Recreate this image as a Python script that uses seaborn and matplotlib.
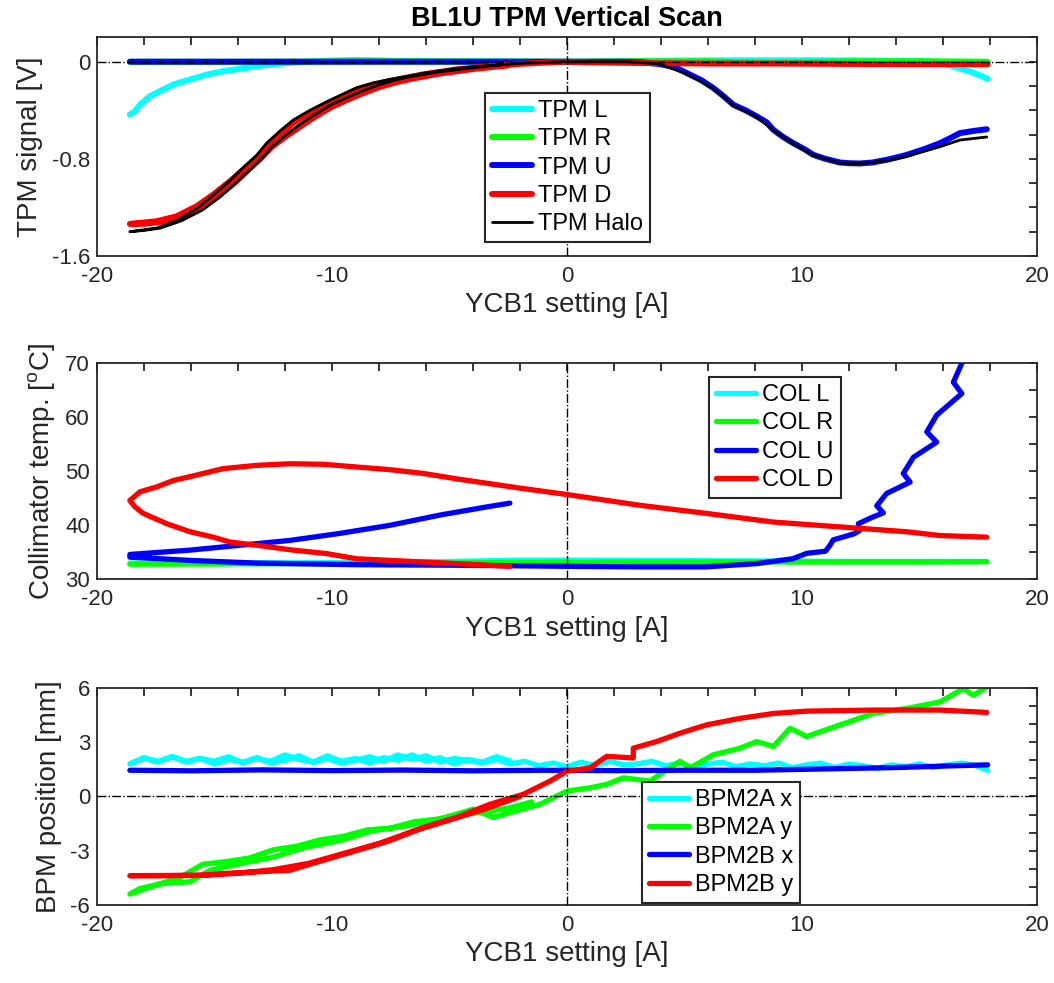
import numpy as np
import pandas as pd
import matplotlib
matplotlib.use("Agg")
import matplotlib.pyplot as plt
from matplotlib.ticker import MultipleLocator, FixedLocator, FuncFormatter
import seaborn as sns

sns.set_style("white")
plt.rcParams['font.family'] = ['Liberation Sans', 'DejaVu Sans']
plt.rcParams['mathtext.fontset'] = 'custom'
plt.rcParams['mathtext.rm'] = 'Liberation Sans'
plt.rcParams['mathtext.it'] = 'Liberation Sans'
plt.rcParams['axes.unicode_minus'] = False

# ---------------- Panel 1: TPM signals ----------------
tpmL_x = [-18.60, -18.38, -18.16, -17.74, -17.31, -16.74, -16.03, -15.31, -14.60, -13.89, -13.18,
          -12.47, -11.75, -11.04, -10.0, -9.0, -8.0, -7.0, -5.0, -3.0, -1.0, 1.0, 3.0, 5.0, 7.0,
          9.0, 11.0, 13.0, 15.0, 15.8, 16.3, 16.8, 17.3, 17.9]
tpmL_y = [-0.434, -0.407, -0.352, -0.283, -0.242, -0.187, -0.146, -0.105, -0.077, -0.058, -0.036,
          -0.022, -0.008, 0.0, 0.01, 0.015, 0.012, 0.005, 0.003, 0.002, 0.0, 0.0, 0.005, 0.01, 0.012,
          0.012, 0.012, 0.01, 0.005, 0.0, -0.03, -0.06, -0.09, -0.14]

tpmR_x = [-18.60, -14.0, -10.0, -6.0, -3.0, 0.0, 3.0, 6.0, 8.0, 10.0, 12.0, 15.0, 17.9]
tpmR_y = [0.0, 0.0, 0.002, 0.003, 0.002, 0.0, 0.004, 0.003, -0.008, -0.006, 0.003, 0.004, 0.0]

tpmU_x = [-18.60, -12.0, -6.0, 0.0, 2.5, 3.11, 3.96, 4.6, 5.09, 5.7, 6.23, 6.7, 7.08, 7.6, 8.07,
          8.5, 8.78, 9.2, 9.63, 10.1, 10.48, 11.0, 11.62, 12.0, 12.47, 13.0, 13.6, 14.0, 14.46,
          15.2, 15.87, 16.3, 16.72, 17.3, 17.86]
tpmU_y = [0.0, 0.0, 0.0, 0.0, 0.0, -0.003, -0.02, -0.045, -0.093, -0.15, -0.217, -0.29, -0.355,
          -0.40, -0.45, -0.50, -0.561, -0.62, -0.671, -0.72, -0.767, -0.80, -0.83, -0.836, -0.838,
          -0.83, -0.808, -0.79, -0.767, -0.72, -0.671, -0.63, -0.588, -0.57, -0.556]

tpmD_x = [-2.5, -4.0, -5.5, -6.6, -7.3, -8.0, -8.7, -9.3, -10.0, -10.7, -11.4, -12.0, -12.55,
          -13.0, -13.55, -14.1, -14.8, -15.5, -16.4, -17.3, -18.0, -18.6,
          -17.46, -16.61, -15.76, -15.05, -14.34, -13.77, -13.20, -12.78, -12.21, -11.65, -10.94,
          -10.23, -9.52, -8.95, -8.24, -7.53, -6.82, -6.11, -4.69, -3.28, -1.86, -0.16, 1.0, 3.0,
          6.0, 9.0, 12.0, 15.0, 17.9]
tpmD_y = [-0.03, -0.06, -0.10, -0.14, -0.17, -0.21, -0.26, -0.31, -0.37, -0.45, -0.54, -0.62,
          -0.70, -0.79, -0.89, -0.99, -1.10, -1.19, -1.27, -1.32, -1.335, -1.336,
          -1.314, -1.273, -1.190, -1.094, -0.984, -0.888, -0.792, -0.695, -0.599, -0.503, -0.421,
          -0.352, -0.283, -0.228, -0.187, -0.159, -0.132, -0.104, -0.063, -0.036, -0.016, 0.0,
          -0.005, -0.01, -0.015, -0.015, -0.018, -0.02, -0.02]

halo_x = [-2.5, -4.0, -5.5, -6.6, -7.3, -8.0, -8.7, -9.3, -10.0, -10.7, -11.4, -12.0, -12.55,
          -13.0, -13.55, -14.1, -14.8, -15.5, -16.4, -17.3, -18.0, -18.6,
          -17.46, -16.61, -15.76, -15.05, -14.34, -13.77, -13.20, -12.78, -12.21, -11.65, -10.94,
          -10.23, -9.52, -8.95, -8.24, -7.53, -6.82, -6.11, -4.69, -3.28, -1.86, -0.16, 2.5,
          3.11, 3.96, 5.09, 6.23, 7.08, 8.07, 8.78, 9.63, 10.48, 11.62, 12.47, 13.6, 14.46, 15.87,
          16.72, 17.86]
halo_y = [-0.02, -0.05, -0.085, -0.12, -0.15, -0.19, -0.24, -0.29, -0.35, -0.43, -0.52, -0.61,
          -0.70, -0.80, -0.90, -1.00, -1.12, -1.22, -1.31, -1.37, -1.39, -1.40,
          -1.37, -1.31, -1.21, -1.10, -0.98, -0.87, -0.77, -0.67, -0.57, -0.48, -0.40,
          -0.33, -0.265, -0.215, -0.175, -0.145, -0.12, -0.095, -0.055, -0.03, -0.012, 0.0, 0.0,
          -0.005, -0.02, -0.10, -0.22, -0.36, -0.455, -0.565, -0.675, -0.77, -0.835, -0.84, -0.815,
          -0.78, -0.70, -0.645, -0.62]

# ---------------- Panel 2: collimator temperatures ----------------
colL_x = [-18.60, -14.0, -10.0, -5.0, -2.0, 0.0, 3.0, 8.0, 12.0, 17.86]
colL_y = [33.0, 33.05, 33.1, 33.3, 33.55, 33.55, 33.5, 33.4, 33.3, 33.3]

colR_x = [-18.60, -14.0, -10.0, -5.0, -3.0, 0.0, 5.0, 10.0, 15.0, 17.86]
colR_y = [32.8, 32.85, 32.9, 33.0, 33.1, 33.15, 33.2, 33.2, 33.2, 33.25]

colU_x = [-2.43, -3.42, -5.40, -7.53, -9.66, -11.79, -13.91, -16.04, -18.60,
          -18.60, -16.04, -13.20, -8.95, -4.69, 0.0, 3.11, 5.94, 8.07, 9.6, 10.2, 11.0, 11.19,
          11.33, 12.2, 12.45, 12.4, 13.0, 13.46, 13.18, 13.60, 14.60, 14.31, 14.74, 15.73, 15.31,
          15.73, 16.80, 16.44, 16.80, 17.10]
colU_y = [44.1, 43.4, 41.9, 40.0, 38.5, 37.2, 36.3, 35.4, 34.6,
          34.1, 33.5, 33.0, 32.7, 32.6, 32.4, 32.3, 32.3, 32.9, 33.8, 34.8, 35.2, 36.3,
          37.3, 38.4, 39.0, 40.3, 41.5, 42.3, 43.6, 45.9, 48.0, 49.6, 52.6, 55.4, 57.3,
          60.4, 64.4, 66.5, 70.0, 73.0]

colD_x = [-2.43, -4.69, -7.53, -8.95, -10.23, -11.65, -13.20, -14.34, -15.05, -16.04, -17.03,
          -18.03, -18.38, -18.60,
          -18.17, -17.46, -16.75, -15.76, -14.63, -13.20, -11.79, -10.37, -8.95, -7.53, -6.11,
          -4.69, -3.28, -1.86, 0.0, 3.11, 5.94, 8.78, 11.62, 14.46, 15.87, 17.86]
colD_y = [32.4, 32.9, 33.5, 33.8, 34.76, 35.4, 36.3, 36.9, 37.8, 38.8, 40.3,
          42.2, 43.4, 44.6,
          46.2, 47.1, 48.3, 49.3, 50.5, 51.1, 51.4, 51.3, 50.8, 50.3, 49.6,
          48.6, 47.7, 46.8, 45.7, 43.7, 42.2, 40.6, 39.7, 38.8, 38.1, 37.8]

# ---------------- Panel 3: BPM positions ----------------
bpmAx_x = [-2.4, -3.0, -3.6, -4.2, -4.8, -5.4, -6.0, -6.6, -7.2, -7.8, -8.4, -9.0, -9.6, -10.2,
           -10.8, -11.4, -12.0, -12.6, -13.2, -13.8, -14.4, -15.0, -15.6, -16.2, -16.8, -17.4,
           -18.0, -18.6,
           -18.0, -17.4, -16.8, -16.2, -15.6, -15.0, -14.4, -13.8, -13.2, -12.6, -12.0, -11.4,
           -10.8, -10.2, -9.6, -9.0, -8.4, -7.8, -7.2, -6.6, -6.0, -5.4, -4.8, -4.2, -3.6, -3.0,
           -2.4, -1.8, -1.2, -0.6, 0.0, 0.6, 1.2, 1.8, 2.4, 3.0, 3.6, 4.2, 4.8, 5.4, 6.0, 6.6,
           7.2, 7.8, 8.4, 9.0, 9.6, 10.2, 10.8, 11.4, 12.0, 12.6, 13.2, 13.8, 14.4, 15.0, 15.6,
           16.2, 16.8, 17.4, 17.9]
bpmAx_y = [1.95, 2.2, 1.9, 2.05, 1.8, 2.15, 1.95, 2.3, 2.0, 2.15, 1.85, 2.1, 1.95, 2.25,
           1.9, 2.05, 2.3, 1.95, 2.1, 1.85, 2.2, 1.95, 2.1, 1.9, 2.2, 1.95, 2.1, 1.8,
           2.15, 1.9, 2.2, 1.95, 2.1, 1.8, 2.05, 1.9, 2.15, 1.85, 2.0, 2.25, 1.9, 2.1, 1.85, 2.0,
           2.2, 1.95, 2.3, 2.05, 2.25, 1.9, 2.1, 2.0, 1.85, 2.05, 1.8, 1.95, 1.7, 1.85, 1.65,
           1.9, 1.7, 1.95, 1.75, 1.8, 1.95, 1.7, 1.85, 1.6, 1.8, 1.9, 1.65, 1.8, 1.7, 1.85, 1.6,
           1.75, 1.85, 1.6, 1.8, 1.7, 1.55, 1.75, 1.65, 1.8, 1.6, 1.75, 1.85, 1.7, 1.45]

bpmAy_x = [-1.5, -2.5, -3.5, -4.5, -5.5, -6.5, -7.5, -8.5, -9.5, -10.5, -11.5, -12.5, -13.5,
           -14.5, -15.5, -16.5, -17.5, -18.6,
           -18.17, -17.18, -16.04, -15.19, -13.91, -12.50, -11.08, -9.66, -8.24, -6.82, -5.40,
           -3.99, -3.14, -2.14, -1.15, 0.0, 0.98, 1.69, 2.40, 3.53, 4.81, 5.23, 6.23, 7.36,
           8.07, 8.78, 9.49, 10.2, 11.62, 13.03, 14.46, 15.87, 16.86, 17.29, 17.86]
bpmAy_y = [-0.3, -0.65, -0.85, -1.0, -1.25, -1.4, -1.75, -1.85, -2.2, -2.4, -2.75, -2.95, -3.4,
           -3.6, -3.75, -4.5, -4.9, -5.4,
           -5.09, -4.81, -4.72, -4.08, -3.72, -3.35, -2.8, -2.44, -1.89, -1.62, -1.25,
           -0.70, -1.16, -0.79, -0.43, 0.3, 0.48, 0.67, 1.03, 0.85, 1.95, 1.58, 2.31, 2.67,
           3.04, 2.77, 3.77, 3.32, 3.96, 4.59, 4.87, 5.23, 5.96, 5.6, 6.05]

bpmBx_x = [-18.60, -16.0, -13.0, -10.0, -7.0, -4.0, -1.0, 2.0, 5.0, 8.0, 10.0, 12.0, 14.0, 16.0, 17.9]
bpmBx_y = [1.45, 1.42, 1.47, 1.43, 1.46, 1.42, 1.45, 1.43, 1.45, 1.45, 1.5, 1.55, 1.6, 1.68, 1.75]

bpmBy_x = [-2.0, -3.5, -5.0, -6.5, -8.0, -9.5, -11.0, -12.5, -14.0, -15.5, -17.0, -18.6,
           -15.5, -14.62, -13.2, -11.79, -10.37, -8.95, -7.53, -6.11, -4.69, -3.28, -1.86, -0.72,
           0.0, 0.98, 1.69, 2.82, 2.82, 3.82, 4.81, 5.94, 7.36, 8.78, 10.2, 13.03, 15.87, 17.86]
bpmBy_y = [0.0, -0.7, -1.3, -1.9, -2.6, -3.15, -3.7, -4.05, -4.25, -4.36, -4.38, -4.38,
           -4.36, -4.26, -4.17, -4.08, -3.53, -2.99, -2.44, -1.71, -1.16, -0.43, 0.12, 0.85,
           1.4, 1.58, 2.22, 2.13, 2.67, 3.04, 3.5, 3.96, 4.32, 4.59, 4.72, 4.78, 4.78, 4.65]

CYAN, GREEN, BLUE, RED = '#00FFFF', '#00FF00', '#0000FF', '#FF0000'
DARK = '#262626'

fig = plt.figure(figsize=(10.54, 9.83), dpi=100)
L, W = 0.0920, 0.8919
ax1 = fig.add_axes([L, 0.7396, W, 0.2223])
ax2 = fig.add_axes([L, 0.4107, W, 0.2197])
ax3 = fig.add_axes([L, 0.0794, W, 0.2207])


def draw(ax, xs, ys, color, lw, label):
    df = pd.DataFrame({'x': xs, 'y': ys})
    sns.lineplot(data=df, x='x', y='y', sort=False, estimator=None, color=color,
                 lw=lw, label=label, ax=ax)


panel1 = [(tpmL_x, tpmL_y, CYAN, 4.3, 'TPM L'), (tpmR_x, tpmR_y, GREEN, 4.3, 'TPM R'),
          (tpmU_x, tpmU_y, BLUE, 4.3, 'TPM U'), (tpmD_x, tpmD_y, RED, 4.3, 'TPM D'),
          (halo_x, halo_y, 'black', 2.0, 'TPM Halo')]
panel2 = [(colL_x, colL_y, CYAN, 3.8, 'COL L'), (colR_x, colR_y, GREEN, 3.8, 'COL R'),
          (colU_x, colU_y, BLUE, 3.8, 'COL U'), (colD_x, colD_y, RED, 3.8, 'COL D')]
panel3 = [(bpmAx_x, bpmAx_y, CYAN, 3.8, 'BPM2A x'), (bpmAy_x, bpmAy_y, GREEN, 3.8, 'BPM2A y'),
          (bpmBx_x, bpmBx_y, BLUE, 3.8, 'BPM2B x'), (bpmBy_x, bpmBy_y, RED, 3.8, 'BPM2B y')]

for ax, series in [(ax1, panel1), (ax2, panel2), (ax3, panel3)]:
    for xs, ys, c, lw, lab in series:
        draw(ax, xs, ys, c, lw, lab)

fmt = FuncFormatter(lambda v, p: '%g' % round(v, 6))

# axis ranges, ticks
ax1.set_ylim(-1.6, 0.2)
ax1.yaxis.set_major_locator(FixedLocator([-1.6, -0.8, 0]))
ax1.yaxis.set_minor_locator(MultipleLocator(0.2))

ax2.set_ylim(30, 70)
ax2.yaxis.set_major_locator(MultipleLocator(10))
ax2.yaxis.set_minor_locator(MultipleLocator(5))

ax3.set_ylim(-6, 6)
ax3.yaxis.set_major_locator(MultipleLocator(3))
ax3.yaxis.set_minor_locator(MultipleLocator(1))

ylabels = ['TPM signal [V]', r'Collimator temp. [$^{\mathrm{o}}$C]', 'BPM position [mm]']
for ax, yl in zip([ax1, ax2, ax3], ylabels):
    ax.set_xlim(-20, 20)
    ax.xaxis.set_major_locator(MultipleLocator(10))
    ax.xaxis.set_minor_locator(MultipleLocator(2))
    ax.xaxis.set_major_formatter(fmt)
    ax.yaxis.set_major_formatter(fmt)
    ax.axvline(0, color='black', ls='-.', lw=1.0, zorder=5)
    ax.tick_params(which='both', direction='in', top=True, right=True, length=6,
                   width=1.3, color=DARK, labelcolor=DARK, labelsize=16)
    ax.tick_params(axis='x', pad=7)
    ax.tick_params(axis='y', pad=5)
    for s in ax.spines.values():
        s.set_color(DARK)
        s.set_linewidth(1.3)
        s.set_visible(True)
    ax.set_xlabel('YCB1 setting [A]', fontsize=20, color=DARK, labelpad=4)
    ax.set_ylabel(yl, fontsize=20, color=DARK, labelpad=6)
    ax.grid(False)

ax1.axhline(0, color='black', ls='-.', lw=1.0, zorder=5)
ax3.axhline(0, color='black', ls='-.', lw=1.0, zorder=5)

ax1.set_title('BL1U TPM Vertical Scan', fontsize=19.5, fontweight='bold', color='black', pad=8)

leg_pos = [(ax1, (0.4128, 0.747)), (ax2, (0.651, 0.9366)), (ax3, (0.5795, 0.568))]
for ax, anchor in leg_pos:
    h, lab = ax.get_legend_handles_labels()
    leg = ax.legend(h, lab, loc='upper left', bbox_to_anchor=anchor, borderaxespad=0,
                    frameon=True, fancybox=False, framealpha=1, edgecolor=DARK,
                    fontsize=17, handlelength=1.7, handletextpad=0.25, labelspacing=0.27,
                    borderpad=0.3)
    leg.get_frame().set_linewidth(1.5)
    leg.set_zorder(10)
    for t in leg.get_texts():
        t.set_color('black')

fig.savefig('out.png', dpi=100)
